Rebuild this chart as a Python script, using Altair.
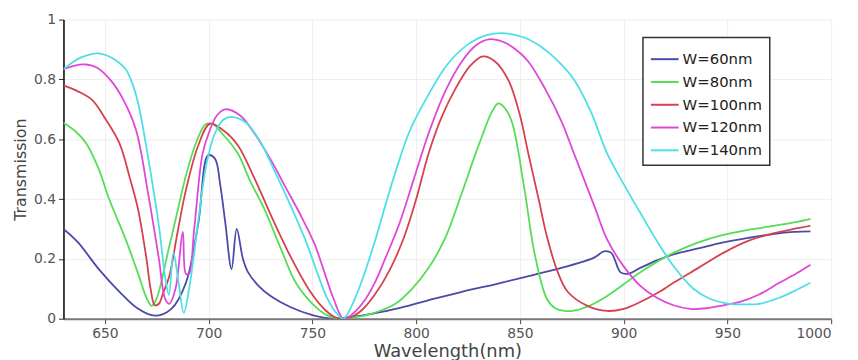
import altair as alt
import pandas as pd

series_names = ["W=60nm", "W=80nm", "W=100nm", "W=120nm", "W=140nm"]
series_colors = ["#4a4aa8", "#55dd55", "#d6404f", "#e046d8", "#4ddfe6"]

wl_60 = [630, 637, 647, 657, 666, 674, 682, 689, 695, 699.7, 703, 705.5, 708, 711, 713.5, 716.5, 719, 724, 730, 739,
         750, 760, 765, 775, 790, 805, 822, 838, 854, 870, 880, 886, 890.5, 894, 898.5, 902, 908, 916, 924, 936,
         948, 960, 972, 982, 990]
t_60 = [0.30, 0.255, 0.166, 0.09, 0.033, 0.01, 0.033, 0.12, 0.32, 0.546, 0.535, 0.45, 0.32, 0.166, 0.30, 0.20, 0.155, 0.11, 0.075, 0.04,
        0.012, 0.0, 0.003, 0.012, 0.033, 0.06, 0.09, 0.115, 0.142, 0.17, 0.19, 0.205, 0.225, 0.22, 0.155, 0.15, 0.17, 0.195, 0.215, 0.235,
        0.255, 0.27, 0.283, 0.29, 0.292]

wl_80 = [630, 636, 641, 647, 652, 660, 666, 670, 672.5, 675, 680.6, 685, 688.7, 694, 698.5, 702, 707, 714, 720, 727,
         735, 742, 750, 757, 763, 768, 775, 782, 790, 798, 806, 814, 822, 828, 832, 836, 839.5, 842, 846, 852,
         857, 863, 867, 871.5, 876, 884, 892, 900, 908, 916, 924, 936, 948, 960, 972, 982, 990]
t_80 = [0.655, 0.625, 0.586, 0.50, 0.40, 0.265, 0.15, 0.07, 0.043, 0.07, 0.23, 0.36, 0.47, 0.59, 0.65, 0.65, 0.615, 0.553, 0.46, 0.364,
        0.23, 0.12, 0.05, 0.012, 0.0, 0.003, 0.01, 0.025, 0.05, 0.1, 0.17, 0.27, 0.42, 0.54, 0.615, 0.685, 0.72, 0.71, 0.66, 0.44,
        0.22, 0.066, 0.035, 0.026, 0.027, 0.045, 0.076, 0.115, 0.155, 0.19, 0.22, 0.255, 0.28, 0.297, 0.31, 0.322, 0.334]

wl_100 = [630, 637, 644, 650, 657, 662, 666, 670, 672, 674, 676, 678, 681, 685, 689, 695, 700.6, 707, 714, 722,
          731, 740, 749, 756, 761, 765, 770, 774, 780, 787, 794, 800, 806, 812, 819, 826, 832, 838, 844.6, 850, 854,
          859, 863, 868, 873, 882.5, 892, 900, 908, 916, 924, 936, 948, 960, 972, 982, 990]
t_100 = [0.78, 0.76, 0.73, 0.67, 0.586, 0.47, 0.364, 0.2, 0.1, 0.045, 0.05, 0.085, 0.142, 0.29, 0.43, 0.58, 0.652, 0.63, 0.58, 0.47,
         0.33, 0.2, 0.09, 0.03, 0.005, 0.0, 0.01, 0.03, 0.08, 0.16, 0.27, 0.4, 0.553, 0.67, 0.77, 0.845, 0.877, 0.86, 0.795, 0.68, 0.553,
         0.40, 0.275, 0.16, 0.09, 0.043, 0.026, 0.033, 0.056, 0.085, 0.12, 0.17, 0.22, 0.26, 0.285, 0.3, 0.31]

wl_120 = [630, 635, 640, 646, 653, 659, 665, 671, 676, 679, 681, 684, 687.5, 689, 690.5, 693, 697, 700, 704, 708,
          715, 722, 730, 737, 744, 751, 756, 760, 765, 770, 775, 780, 785, 792, 799, 806, 814, 822, 829, 835, 842,
          848, 854, 862, 870, 876, 886, 892, 900, 908, 916, 924, 932, 940, 948, 956, 965, 975, 983, 990]
t_120 = [0.834, 0.845, 0.85, 0.84, 0.795, 0.73, 0.63, 0.41, 0.2, 0.066, 0.05, 0.1, 0.29, 0.15, 0.15, 0.3, 0.55, 0.62, 0.68, 0.70,
         0.68, 0.62, 0.53, 0.44, 0.35, 0.25, 0.15, 0.07, 0.0, 0.02, 0.06, 0.12, 0.2, 0.32, 0.47, 0.62, 0.76, 0.86, 0.915, 0.934, 0.925,
         0.9, 0.86, 0.77, 0.66, 0.553, 0.374, 0.265, 0.175, 0.11, 0.07, 0.045, 0.033, 0.035, 0.045, 0.056, 0.08, 0.12, 0.15, 0.18]

wl_140 = [630, 634, 638, 643, 647, 651, 655, 660, 663, 666, 671, 676, 679, 680.8, 683, 685.5, 688, 691, 695, 699, 703, 707, 711,
          718, 725, 732, 740, 746.5, 752, 757, 762, 765, 770, 775, 781, 785.6, 790, 797, 806, 815, 825, 834, 843,
          852, 860, 867, 876, 884, 892, 900, 908, 916, 924, 933.6, 942, 951, 958, 965.6, 975, 983, 990]
t_140 = [0.834, 0.855, 0.872, 0.884, 0.887, 0.88, 0.865, 0.834, 0.79, 0.72, 0.53, 0.31, 0.14, 0.08, 0.22, 0.12, 0.02, 0.12, 0.33, 0.52, 0.62, 0.665, 0.675,
         0.655, 0.59, 0.49, 0.37, 0.265, 0.16, 0.07, 0.015, 0.0, 0.06, 0.15, 0.28, 0.39, 0.49, 0.63, 0.75, 0.85, 0.917, 0.948, 0.954,
         0.94, 0.91, 0.87, 0.80, 0.695, 0.553, 0.45, 0.354, 0.26, 0.176, 0.10, 0.065, 0.05, 0.048, 0.05, 0.07, 0.095, 0.12]

x_ticks = [650, 700, 750, 800, 850, 900, 950, 1000]
y_ticks = [0, 0.2, 0.4, 0.6, 0.8, 1]

all_wl = [wl_60, wl_80, wl_100, wl_120, wl_140]
all_t = [t_60, t_80, t_100, t_120, t_140]
rows = []
for name, wls, ts in zip(series_names, all_wl, all_t):
    for w, t in zip(wls, ts):
        rows.append({"wl": w, "T": t, "series": name})
df = pd.DataFrame(rows)

FONT = "DejaVu Sans"

chart = alt.Chart(df).mark_line(strokeWidth=1.8, interpolate="catmull-rom", clip=True).encode(
    x=alt.X("wl:Q",
            scale=alt.Scale(domain=[630, 1000], nice=False, zero=False),
            axis=alt.Axis(values=x_ticks, title="Wavelength(nm)", format="d",
                          labelFontSize=14, titleFontSize=18, labelColor="#555", titleColor="#444",
                          labelFont=FONT, titleFont=FONT, titleFontWeight="normal",
                          domainColor="#777", domainWidth=2, tickColor="#444", tickSize=5,
                          labelPadding=3, titlePadding=2,
                          grid=True, gridColor="#eeeeee", gridWidth=1)),
    y=alt.Y("T:Q",
            scale=alt.Scale(domain=[0, 1], nice=False),
            axis=alt.Axis(values=y_ticks, title="Transmission", format="~g",
                          labelFontSize=14, titleFontSize=16, labelColor="#555", titleColor="#444",
                          labelFont=FONT, titleFont=FONT, titleFontWeight="normal",
                          domainColor="#000", domainWidth=1.5, tickColor="#333", tickSize=5,
                          labelPadding=3, titlePadding=5,
                          grid=True, gridColor="#eeeeee", gridWidth=1)),
    color=alt.Color("series:N",
                    scale=alt.Scale(domain=series_names, range=series_colors),
                    sort=series_names,
                    legend=alt.Legend(title=None, orient="none", legendX=585, legendY=18,
                                      symbolType="stroke", symbolSize=784, symbolStrokeWidth=2,
                                      labelFontSize=15, labelFont=FONT, labelColor="#222",
                                      labelOffset=3, rowPadding=-6, padding=7,
                                      strokeColor="#333", fillColor="white", cornerRadius=0)),
).properties(
    width=775, height=302,
    autosize=alt.AutoSizeParams(type="none"),
    padding={"left": 56, "top": 10, "right": 19, "bottom": 40},
).configure_view(stroke=None).configure_legend(strokeWidth=1.5)

chart.save("out.html", embed_options={"renderer": "svg", "actions": False})
